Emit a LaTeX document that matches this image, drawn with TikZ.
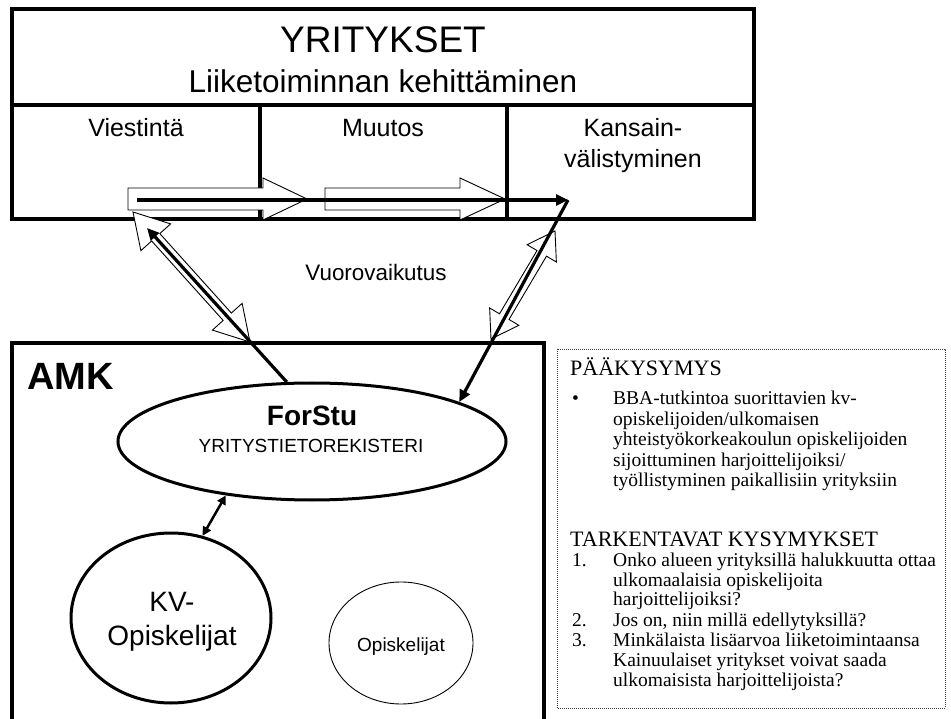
\documentclass[tikz,border=0pt]{standalone}
\usepackage{fontspec}
\setmainfont{Liberation Serif}
\setsansfont{Liberation Sans}
\usetikzlibrary{calc,arrows.meta,shapes.geometric}
\newcommand\fs[1]{\fontsize{#1}{#1}\selectfont}
% hollow double-headed block arrow: name, tipA, tipB, head length, head half width, shaft half width
\newcommand\hollowdbl[6]{%
  \coordinate (#1-a) at ($(#2)!#4!(#3)$);
  \coordinate (#1-b) at ($(#3)!#4!(#2)$);
  \draw[hollow] (#2) -- ($(#1-a)!#5!90:(#3)$) -- ($(#1-a)!#6!90:(#3)$)
     -- ($(#1-b)!#6!-90:(#2)$) -- ($(#1-b)!#5!-90:(#2)$) -- (#3)
     -- ($(#1-b)!#5!90:(#2)$) -- ($(#1-b)!#6!90:(#2)$)
     -- ($(#1-a)!#6!-90:(#3)$) -- ($(#1-a)!#5!-90:(#3)$) -- cycle;
}
\begin{document}
\begin{tikzpicture}[x=1pt,y=-1pt,
  thickbox/.style={line width=4pt, line join=miter},
  hollow/.style={draw=black, fill=white, line width=0.9pt, line join=miter},
  blk/.style={line width=3.2pt, -{Triangle[length=12pt,width=11pt]}},
  stxt/.style={inner sep=0pt, anchor=base},
  btxt/.style={inner sep=0pt, anchor=base west, font=\rmfamily\fs{19.5}},
  htxt/.style={inner sep=0pt, anchor=base west, font=\rmfamily\fs{22}},
  ell/.style={ellipse, draw, inner sep=0pt},
  dotbox/.style={draw=black!75, line width=0.9pt, dash pattern=on 0.9pt off 1.1pt}
]
\useasboundingbox (0,0) rectangle (951,719);

% ---------- YRITYKSET box ----------
\draw[thickbox] (12,9) rectangle (754,219);
\draw[thickbox] (12,105) -- (754,105);
\draw[thickbox] (260,105) -- (260,219);
\draw[thickbox] (507,105) -- (507,219);
\node[stxt, font=\sffamily\fs{37}] (yrit) at (383,53) {YRITYKSET};
\node[stxt, font=\sffamily\fs{31.5}] (liike) at (383,93) {Liiketoiminnan kehittäminen};
\node[stxt, font=\sffamily\fs{25}] (viest) at (136,137) {Viestintä};
\node[stxt, font=\sffamily\fs{25}] (muut) at (383,137) {Muutos};
\node[stxt, font=\sffamily\fs{25}] (kans1) at (633,137) {Kansain-};
\node[stxt, font=\sffamily\fs{25}] (kans2) at (633,168) {välistyminen};

% ---------- AMK box ----------
\draw[thickbox] (12,722) -- (12,343) -- (544,343) -- (544,722);
\node[inner sep=0pt, anchor=base west, font=\sffamily\bfseries\fs{38}] (amk) at (27,390) {AMK};

\node[ell, line width=3pt, minimum width=388pt, minimum height=117pt] (forstu) at (312,441.5) {};
\node[stxt, font=\sffamily\bfseries\fs{28}] (forstut) at (312,425) {ForStu};
\node[stxt, font=\sffamily\fs{19}] (reg) at (311,452) {YRITYSTIETOREKISTERI};

\node[ell, line width=3pt, minimum width=200pt, minimum height=170pt] (kv) at (171,618) {};
\node[stxt, font=\sffamily\fs{28}] (kv1) at (172,611) {KV-};
\node[stxt, font=\sffamily\fs{28}] (kv2) at (172,645) {Opiskelijat};

\node[ell, line width=0.9pt, minimum width=144pt, minimum height=122pt] (op) at (401,643) {};
\node[stxt, font=\sffamily\fs{19}] (opt) at (401,651) {Opiskelijat};

\draw[line width=2.5pt, {Triangle[length=9pt,width=9pt]}-{Triangle[length=9pt,width=9pt]}] (kv.69) -- (forstu.212);

% ---------- interaction ----------
\node[stxt, font=\sffamily\fs{22.4}] (vuoro) at (376,281) {Vuorovaikutus};

% hollow horizontal arrows
\draw[hollow] (128,188) -- (263,188) -- (263,178) -- (307,199) -- (263,220) -- (263,210) -- (128,210) -- cycle;
\draw[hollow] (325,188) -- (460,188) -- (460,178) -- (505,199) -- (460,220) -- (460,210) -- (325,210) -- cycle;

% hollow double arrows
\coordinate (dlA) at (133,212);
\coordinate (dlB) at (250,342);
\hollowdbl{dl}{dlA}{dlB}{34pt}{20pt}{5.5pt}
\coordinate (drA) at (555,231);
\coordinate (drB) at (491,339);
\hollowdbl{dr}{drA}{drB}{26pt}{17pt}{5.5pt}

% black arrows
\coordinate (hstart) at (137,200);
\coordinate (turn) at (568,200);
\coordinate (ltip) at (147,228);
\draw[blk] (hstart) -- (turn);
\draw[blk] (turn) -- (forstu.15);
\draw[blk] (forstu.113) -- (ltip);

% ---------- question box ----------
\draw[dotbox] (557,349) rectangle (945,708);
\node[htxt] (h1) at (570,376) {PÄÄKYSYMYS};
\node[btxt] (bul) at (572,405) {•};
\node[btxt] (p1) at (613,405) {BBA-tutkintoa suorittavien kv-};
\node[btxt] (p2) at (613,425.5) {opiskelijoiden/ulkomaisen};
\node[btxt] (p3) at (613,445.8) {yhteistyökorkeakoulun opiskelijoiden};
\node[btxt] (p4) at (613,466) {sijoittuminen harjoittelijoiksi/};
\node[btxt] (p5) at (613,486) {työllistyminen paikallisiin yrityksiin};
\node[htxt] (h2) at (570,546) {TARKENTAVAT KYSYMYKSET};
\node[btxt] (n1) at (572,566) {1.};
\node[btxt] (q1) at (613,566) {Onko alueen yrityksillä halukkuutta ottaa};
\node[btxt] (q1b) at (613,586) {ulkomaalaisia opiskelijoita};
\node[btxt] (q1c) at (613,605.5) {harjoittelijoiksi?};
\node[btxt] (n2) at (572,626) {2.};
\node[btxt] (q2) at (613,626) {Jos on, niin millä edellytyksillä?};
\node[btxt] (n3) at (572,646) {3.};
\node[btxt] (q3) at (613,646) {Minkälaista lisäarvoa liiketoimintaansa};
\node[btxt] (q3b) at (613,666) {Kainuulaiset yritykset voivat saada};
\node[btxt] (q3c) at (613,686) {ulkomaisista harjoittelijoista?};
\end{tikzpicture}
\end{document}
